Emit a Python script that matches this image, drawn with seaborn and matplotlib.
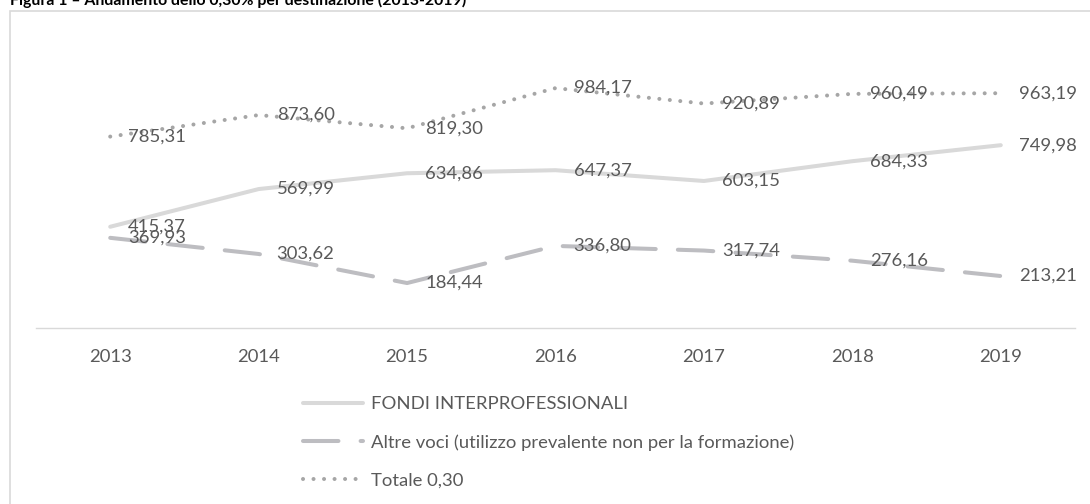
import matplotlib
matplotlib.use("Agg")
import matplotlib.pyplot as plt
import seaborn as sns
import pandas as pd
import numpy as np
from matplotlib.patches import Rectangle

years = ["2013", "2014", "2015", "2016", "2017", "2018", "2019"]
fondi = [415.37, 569.99, 634.86, 647.37, 603.15, 684.33, 749.98]
altre = [369.93, 303.62, 184.44, 336.80, 317.74, 276.16, 213.21]
totale = [785.31, 873.60, 819.30, 984.17, 920.89, 960.49, 963.19]
series_names = ["FONDI INTERPROFESSIONALI",
                "Altre voci (utilizzo prevalente non per la formazione)",
                "Totale 0,30"]
title = "Figura 1 \u2013 Andamento dello 0,30% per destinazione (2013-2019)"

sns.set_theme(style="white")
plt.rcParams['font.family'] = ['Lato', 'DejaVu Sans']

W, H = 1090, 504
fig = plt.figure(figsize=(W / 100, H / 100), dpi=100)

def px_x(x):
    return x / W

def px_y(y):
    return 1 - y / H

ax_left, ax_right, ax_top, ax_bottom = 36, 1075, 35.5, 328
ax = fig.add_axes([px_x(ax_left), px_y(ax_bottom), (ax_right - ax_left) / W, (ax_bottom - ax_top) / H])

xpos = np.arange(len(years))
lw = 2.9  # points ~ 4px
styles = [
    dict(color="#d9d9d9", linestyle="-"),
    dict(color="#bdbdc1", linestyle=(0, (8.8, 5.5))),
    dict(color="#a6a6a6", linestyle=(0, (0.01, 2.6))),
]
data = [fondi, altre, totale]
handles = []
for vals, name, st in zip(data, series_names, styles):
    df = pd.DataFrame({"x": xpos, "y": vals})
    sns.lineplot(data=df, x="x", y="y", ax=ax, color=st["color"], linewidth=lw,
                 linestyle=st["linestyle"], solid_capstyle="round",
                 dash_capstyle="round", solid_joinstyle="round", legend=False)
    handles.append(ax.lines[-1])

label_color = "#595959"
fs = 13.3
fs_px = fs * 100 / 72
for vals in data:
    for xi, v in zip(xpos, vals):
        ax.annotate(f"{v:.2f}".replace(".", ","), (xi, v), xytext=(13, 0),
                    textcoords="offset points", ha="left", va="center",
                    fontsize=fs, color=label_color)

ax.set_xlim(-0.5, len(years) - 0.5)
ax.set_ylim(0, 1200)
ax.set_xticks(xpos)
ax.set_xticklabels(years)
ax.set_yticks([])
ax.set_xlabel("")
ax.set_ylabel("")
ax.tick_params(axis="x", length=0, pad=15, labelsize=fs, labelcolor=label_color)
for s in ["left", "right", "top"]:
    ax.spines[s].set_visible(False)
ax.spines["bottom"].set_color("#d9d9d9")
ax.spines["bottom"].set_linewidth(1.0)

# legend
leg = fig.legend(handles, series_names, loc="upper left",
                 bbox_to_anchor=(px_x(303), px_y(396)), frameon=False,
                 fontsize=fs, handlelength=60 / fs_px,
                 handletextpad=8 / fs_px, labelspacing=1.2, borderpad=0,
                 borderaxespad=0)
for t in leg.get_texts():
    t.set_color(label_color)

# outer frame
fig.patches.append(Rectangle((px_x(10), px_y(H + 20)), (W + 20) / W, (H + 9.5) / H,
                             transform=fig.transFigure, fill=False,
                             edgecolor="#d9d9d9", linewidth=1.2, clip_on=False))

fig.text(px_x(10), px_y(5), title, ha="left", va="baseline", fontsize=11.4,
         fontweight="bold", color="#000000")

fig.savefig("out.png", dpi=100)
